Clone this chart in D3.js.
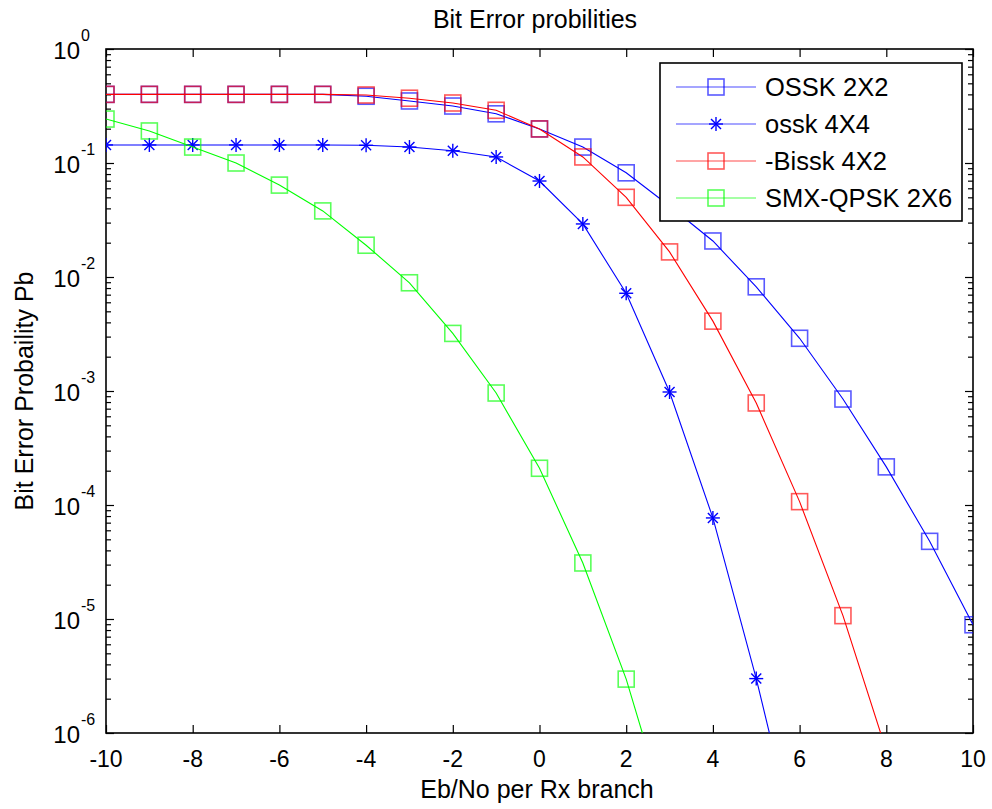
<!DOCTYPE html>
<html><head><meta charset="utf-8">
<script src="https://cdn.jsdelivr.net/npm/d3@7"></script>
<style>body{margin:0;background:#fff;} text{font-family:Arial,"Liberation Sans",sans-serif;}</style>
</head><body><svg id="c" width="992" height="809"></svg>
<script>
const xValues = [-10,-9,-8,-7,-6,-5,-4,-3,-2,-1,0,1,2,3,4,5,6,7,8,9,10];
const ossk2x2 = [0.40,0.40,0.40,0.40,0.40,0.40,0.385,0.35,0.316,0.27,0.199,0.138,0.082,0.042,0.0207,0.0082,0.0029,8.5e-4,2.16e-4,4.8e-5,8.9e-6];
const ossk4x4 = [0.144,0.144,0.144,0.144,0.144,0.144,0.143,0.138,0.128,0.113,0.0695,0.0292,0.0072,9.8e-4,7.7e-5,3.0e-6,8e-8,null,null,null,null];
const bissk4x2 = [0.40,0.40,0.40,0.40,0.40,0.40,0.395,0.37,0.336,0.29,0.199,0.113,0.050,0.0166,0.0041,7.85e-4,1.07e-4,1.07e-5,7e-7,null,null];
const smx2x6 = [0.243,0.191,0.138,0.10,0.064,0.038,0.019,0.0089,0.0032,9.6e-4,2.1e-4,3.1e-5,2.97e-6,1.6e-7,null,null,null,null,null,null,null];
const seriesNames = ["OSSK 2X2","ossk 4X4","-Bissk 4X2","SMX-QPSK 2X6"];
const seriesColors = ["#0000ff","#0000ff","#ff0000","#00ff00"];
const seriesMarkers = ["square","star","square","square"];
const xTicks = [-10,-8,-6,-4,-2,0,2,4,6,8,10];
const yExponents = [0,-1,-2,-3,-4,-5,-6];
const titleText = "Bit Error probilities";
const xLabel = "Eb/No per Rx branch";
const yLabel = "Bit Error Probaility Pb";

const seriesData = [ossk2x2, ossk4x4, bissk4x2, smx2x6];
const L=106,R=973,T=49,B=733;
const svg = d3.select("#c");
const x = d3.scaleLinear().domain([-10,10]).range([L,R]);
const y = d3.scaleLog().domain([1e-6,1]).range([B,T]);

svg.append("defs").append("clipPath").attr("id","clip")
  .append("rect").attr("x",L).attr("y",T).attr("width",R-L).attr("height",B-T);

// ticks
const g = svg.append("g");
g.append("g").attr("transform",`translate(0,${B})`).call(d3.axisBottom(x).tickValues(xTicks).tickSize(-8).tickFormat("")).call(a=>a.select(".domain").remove());
g.append("g").attr("transform",`translate(0,${T})`).call(d3.axisTop(x).tickValues(xTicks).tickSize(-8).tickFormat("")).call(a=>a.select(".domain").remove());
const minorVals=[];
for(let e=-6;e<0;e++){for(let m=2;m<=9;m++) minorVals.push(m*Math.pow(10,e));}
const majorVals = yExponents.map(e=>Math.pow(10,e));
g.append("g").attr("transform",`translate(${L},0)`).call(d3.axisLeft(y).tickValues(majorVals).tickSize(-8).tickFormat("")).call(a=>a.select(".domain").remove());
g.append("g").attr("transform",`translate(${R},0)`).call(d3.axisRight(y).tickValues(majorVals).tickSize(-8).tickFormat("")).call(a=>a.select(".domain").remove());
g.append("g").attr("transform",`translate(${L},0)`).call(d3.axisLeft(y).tickValues(minorVals).tickSize(-5).tickFormat("")).call(a=>a.select(".domain").remove());
g.append("g").attr("transform",`translate(${R},0)`).call(d3.axisRight(y).tickValues(minorVals).tickSize(-5).tickFormat("")).call(a=>a.select(".domain").remove());
g.selectAll(".tick line").attr("stroke","#000").attr("stroke-width",1.2);

// box
svg.append("rect").attr("x",L).attr("y",T).attr("width",R-L).attr("height",B-T)
  .attr("fill","none").attr("stroke","#000").attr("stroke-width",1.6);

// x tick labels
svg.append("g").selectAll("text").data(xTicks).join("text")
  .attr("x",d=>x(d)).attr("y",767).attr("text-anchor","middle").attr("font-size",23).text(d=>d);
// y tick labels
const yl = svg.append("g").selectAll("g").data(yExponents).join("g");
yl.append("text").attr("x",80).attr("y",d=>y(Math.pow(10,d))+10).attr("text-anchor","end").attr("font-size",24).text("10");
yl.append("text").attr("x",81).attr("y",d=>y(Math.pow(10,d))-8).attr("text-anchor","start").attr("font-size",16).text(d=>d);

// title and labels
svg.append("text").attr("x",535).attr("y",28).attr("text-anchor","middle").attr("font-size",25).text(titleText);
svg.append("text").attr("x",537).attr("y",798).attr("text-anchor","middle").attr("font-size",25).text(xLabel);
svg.append("text").attr("transform","translate(33,391) rotate(-90)").attr("text-anchor","middle").attr("font-size",25).text(yLabel);

function drawMarker(sel, type, color){
  if(type==="square"){
    sel.append("rect").attr("x",-8).attr("y",-8).attr("width",16).attr("height",16)
      .attr("fill","none").attr("stroke",color).attr("stroke-width",1.6).attr("stroke-opacity",0.65);
  } else {
    const s=7,d=5;
    [[-s,0,s,0],[0,-s,0,s],[-d,-d,d,d],[-d,d,d,-d]].forEach(l=>
      sel.append("line").attr("x1",l[0]).attr("y1",l[1]).attr("x2",l[2]).attr("y2",l[3])
        .attr("stroke",color).attr("stroke-width",1.4));
  }
}

const plot = svg.append("g").attr("clip-path","url(#clip)");
seriesData.forEach((vals,i)=>{
  const pts = xValues.map((xv,j)=>({x:xv,v:vals[j]})).filter(p=>p.v!=null);
  const line = d3.line().x(p=>x(p.x)).y(p=>y(p.v));
  plot.append("path").attr("d",line(pts)).attr("fill","none").attr("stroke",seriesColors[i]).attr("stroke-width",1.1);
  pts.filter(p=>p.v>=1e-6).forEach(p=>{
    const m = plot.append("g").attr("transform",`translate(${x(p.x)},${y(p.v)})`);
    drawMarker(m, seriesMarkers[i], seriesColors[i]);
  });
});

// legend
const lg = svg.append("g");
lg.append("rect").attr("x",660).attr("y",63).attr("width",302).attr("height",158)
  .attr("fill","#fff").attr("stroke","#000").attr("stroke-width",1.6);
seriesNames.forEach((n,i)=>{
  const yy = 87 + i*37;
  lg.append("line").attr("x1",676).attr("x2",756).attr("y1",yy).attr("y2",yy).attr("stroke",seriesColors[i]).attr("stroke-width",1.1).attr("stroke-opacity",0.7);
  const m = lg.append("g").attr("transform",`translate(716,${yy})`);
  drawMarker(m, seriesMarkers[i], seriesColors[i]);
  lg.append("text").attr("x",765).attr("y",yy+9).attr("font-size",25.5).text(n);
});
</script></body></html>
